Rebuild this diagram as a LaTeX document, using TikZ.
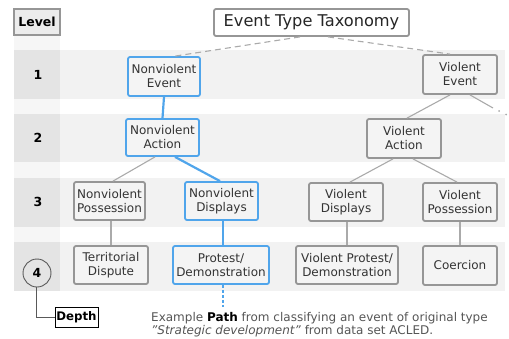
\documentclass[tikz,border=0pt]{standalone}
\usepackage{fontspec}
\setmainfont{DejaVu Sans}
\usetikzlibrary{calc}
\definecolor{pathblue}{RGB}{80,165,235}
\definecolor{boxgray}{RGB}{150,150,150}
\definecolor{linegray}{RGB}{170,170,170}
\definecolor{bandgray}{RGB}{242,242,242}
\definecolor{cellgray}{RGB}{228,228,228}
\definecolor{stripgray}{RGB}{246,246,246}
\definecolor{nodefill}{RGB}{244,244,244}
\definecolor{captiongray}{RGB}{85,85,85}
\tikzset{
  tax/.style={draw=boxgray, line width=1.8pt, fill=nodefill, rounded corners=2pt,
    align=center, inner sep=0pt, font=\fontsize{12}{14}\selectfont, text=black!80},
  onpath/.style={draw=pathblue},
  conn/.style={draw=linegray, line width=1.1pt},
  pathconn/.style={draw=pathblue, line width=2.2pt},
  lvl/.style={font=\bfseries\fontsize{12.5}{14}\selectfont},
}
\begin{document}
\begin{tikzpicture}[x=1pt,y=-1pt]
\useasboundingbox (0,0) rectangle (509,338);
% background
\fill[stripgray] (14,36) rectangle (60,291);
\foreach \a/\b in {50/99,114/162,178/227,242/291}{
  \fill[bandgray] (60,\a) rectangle (505,\b);
  \fill[cellgray] (14,\a) rectangle (60,\b);
}
% level header
\node[draw=boxgray, line width=1.5pt, fill=cellgray!70, minimum width=46pt, minimum height=26pt, inner sep=0pt, lvl] (level) at (37,22) {Level};
\node[lvl] (l1) at (38,75) {1};
\node[lvl] (l2) at (38,138) {2};
\node[lvl] (l3) at (38,202) {3};
\node[circle, draw=black!65, line width=0.9pt, minimum size=28pt, inner sep=0pt, lvl] (l4) at (37,273) {4};
\node[draw=black, line width=0.8pt, fill=white, minimum width=43pt, minimum height=20pt, inner sep=0pt, font=\bfseries\fontsize{11.8}{14}\selectfont] (depth) at (76.5,317) {Depth};
\coordinate (bend) at (36,317);
\draw[black!65, line width=0.9pt] (l4.south -| bend) -- (bend) -- (depth.west);
% title
\node[draw=boxgray, line width=1.8pt, fill=white, rounded corners=2pt, minimum width=195pt, minimum height=27pt, inner sep=0pt, font=\fontsize{16.2}{18}\selectfont, text=black!85] (title) at (311.5,22.5) {Event Type Taxonomy};
% taxonomy nodes
\node[tax, onpath, minimum width=72pt, minimum height=39pt] (nve) at (164,76.5) {Nonviolent\\Event};
\node[tax, minimum width=74pt, minimum height=39pt] (ve) at (460,74.5) {Violent\\Event};
\node[tax, onpath, minimum width=73pt, minimum height=37pt] (nva) at (162.5,137.5) {Nonviolent\\Action};
\node[tax, minimum width=74pt, minimum height=39pt] (va) at (404,138.5) {Violent\\Action};
\node[tax, minimum width=71pt, minimum height=38pt] (nvp) at (109.5,201) {Nonviolent\\Possession};
\node[tax, onpath, minimum width=73pt, minimum height=38pt] (nvd) at (221.5,201) {Nonviolent\\Displays};
\node[tax, minimum width=74pt, minimum height=38pt] (vd) at (346,202) {Violent\\Displays};
\node[tax, minimum width=74pt, minimum height=38pt] (vp) at (460,202) {Violent\\Possession};
\node[tax, minimum width=74pt, minimum height=38pt] (td) at (111,265) {Territorial\\Dispute};
\node[tax, onpath, minimum width=96pt, minimum height=38pt] (pd) at (221,265) {Protest/\\Demonstration};
\node[tax, minimum width=102pt, minimum height=38pt] (vpd) at (347,265) {Violent Protest/\\Demonstration};
\node[tax, minimum width=74pt, minimum height=39pt] (co) at (460,265.5) {Coercion};
% connectors
\draw[conn, dash pattern=on 6pt off 4pt] ($(title.south)+(-11.5,0)$) -- ($(nve.north)+(11,0)$);
\draw[conn, dash pattern=on 6pt off 4pt] ($(title.south)+(16.5,0)$) -- ($(ve.north)+(-10,0)$);
\draw[conn] ($(ve.south)+(-10,0)$) -- ($(va.north)+(3,0)$);
\coordinate (off) at (493,108);
\draw[conn] ($(ve.south)+(10,0)$) -- (off);
\fill[linegray] (499,111) circle (1pt) (506,114.5) circle (1pt);
\draw[pathconn] (nve.south) -- (nva.north);
\draw[conn] ($(nva.south)+(-7.5,0)$) -- ($(nvp.north)+(3.5,0)$);
\draw[pathconn] ($(nva.south)+(12.5,0)$) -- ($(nvd.north)+(-1.5,0)$);
\draw[conn] ($(va.south)+(-11,0)$) -- ($(vd.north)+(4,0)$);
\draw[conn] ($(va.south)+(9,0)$) -- ($(vp.north)+(-3,0)$);
\draw[conn] (nvp.south -| td) -- (td.north);
\draw[pathconn] ($(nvd.south)+(1.5,0)$) -- ($(pd.north)+(2,0)$);
\draw[conn] (vd.south -| vpd) -- (vpd.north);
\draw[conn] (vp.south) -- (co.north);
\coordinate (pathend) at (223,307);
\draw[pathblue, line width=2pt, dash pattern=on 3pt off 2pt] ($(pd.south)+(2,0)$) -- (pathend);
% caption
\node[anchor=west, inner sep=0pt, text=captiongray, font=\fontsize{12}{13}\selectfont] (cap1) at (151,318) {Example \textbf{\color{black}Path} from classifying an event of original type};
\node[anchor=west, inner sep=0pt, text=captiongray, font=\fontsize{12}{13}\selectfont] (cap2) at (151,331) {\textit{"Strategic development"} from data set ACLED.};
\end{tikzpicture}
\end{document}
